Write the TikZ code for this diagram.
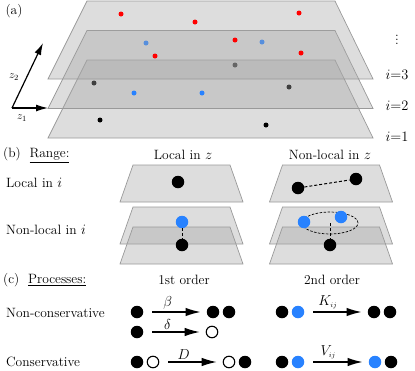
\documentclass[tikz,border=0pt]{standalone}
\usetikzlibrary{arrows.meta, shapes.geometric}
\definecolor{dotblue}{RGB}{40,130,255}
\newcommand{\txt}{\fontsize{13.5}{16}\selectfont}
\tikzset{
	plane/.style={draw=black!40, fill=black!35, fill opacity=0.38, line width=0.7pt},
	pt/.style={circle, fill, inner sep=0pt, minimum size=5pt},
	ball/.style={circle, fill, inner sep=0pt, minimum size=12.5pt},
	hole/.style={circle, draw, line width=1.1pt, fill=white, inner sep=0pt, minimum size=11.5pt},
	proc/.style={-{Latex[length=15pt,width=8.5pt]}, line width=1.3pt},
	axis/.style={-{Latex[length=12pt,width=7pt]}, line width=1.2pt},
	link/.style={line width=1pt, dash pattern=on 3pt off 2pt},
	lbl/.style={font=\txt, inner sep=0pt},
}
\begin{document}
\begin{tikzpicture}[x=1pt, y=-1pt]
	\useasboundingbox (0,0) rectangle (415,370);
	% (a)
	\node[lbl] (pa) at (14,11) {(a)};
	\draw[plane] (87,60) -- (335,60) -- (373,138) -- (48,138) -- cycle;
	\foreach \x/\y [count=\n] in {100/120, 266/125, 94/83, 289/87, 235/65}
		\node[pt] (k\n) at (\x,\y) {};
	\draw[plane] (87,30.5) -- (335,30.5) -- (373,108.5) -- (48,108.5) -- cycle;
	\foreach \x/\y [count=\n] in {134/93, 202/93, 146/43, 262/42}
		\node[pt, dotblue] (b\n) at (\x,\y) {};
	\draw[plane] (87,1) -- (335,1) -- (373,79) -- (48,79) -- cycle;
	\foreach \x/\y [count=\n] in {121/14, 195/22, 299/13, 235/40, 301/53, 155/56}
		\node[pt, red] (r\n) at (\x,\y) {};
	\coordinate (o) at (12,108);
	\coordinate (z1) at (48,108);
	\coordinate (z2) at (43,43);
	\draw[axis] (o) -- (z1);
	\draw[axis] (o) -- (z2);
	\node[font=\fontsize{11}{13}\selectfont] (lz1) at (22,118) {$z_1$};
	\node[font=\fontsize{11}{13}\selectfont] (lz2) at (14,77) {$z_2$};
	\foreach \y/\i in {75/3, 106/2, 137/1}
		\node[lbl] (i\i) at (397,\y) {$i{=}\i$};
	\node[lbl] (dots) at (397,37) {$\vdots$};
	% (b)
	\node[lbl, anchor=west] (pb) at (3,155) {(b)\ \ \underline{Range:}};
	\node[lbl] (lz) at (183,155) {Local in $z$};
	\node[lbl] (nz) at (330,155) {Non-local in $z$};
	\node[lbl, anchor=west] (li) at (6,183) {Local in $i$};
	\node[lbl, anchor=west] (ni) at (6,230) {Non-local in $i$};
	\foreach \cx/\ty in {181.5/165, 331/165, 181.5/207, 331/207, 181.5/227, 331/227}
		\draw[plane] (\cx-48.5,\ty) -- (\cx+48.5,\ty) -- (\cx+61.5,\ty+37) -- (\cx-61.5,\ty+37) -- cycle;
	\node[ball] (ll) at (178,182) {};
	\node[ball] (nl1) at (298,188) {};
	\node[ball] (nl2) at (356,179) {};
	\draw[link] (nl1) -- (nl2);
	\node[ball, dotblue] (ln1) at (182,222) {};
	\node[ball] (ln2) at (182,245) {};
	\draw[link] (ln1) -- (ln2);
	\node[ellipse, draw, line width=0.7pt, dash pattern=on 2.5pt off 1.5pt,
		minimum width=56pt, minimum height=22pt] (ring) at (330,223) {};
	\node[ball, dotblue] (nn1) at (304,222) {};
	\node[ball, dotblue] (nn2) at (341,217) {};
	\node[ball] (nn3) at (330,245) {};
	\draw[link] (ring.center) -- (nn3);
	% (c)
	\node[lbl, anchor=west] (pc) at (3,280) {(c)\ \ \underline{Processes:}};
	\node[lbl] (o1) at (184,280) {1st order};
	\node[lbl] (o2) at (332,280) {2nd order};
	\node[lbl, anchor=west] (nc) at (6,313) {Non-conservative};
	\node[lbl, anchor=west] (cs) at (6,362) {Conservative};
	\node[ball] (a1) at (137,312) {};
	\node[ball] (a2) at (213,312) {};
	\node[ball] (a3) at (229,312) {};
	\draw[proc] ([xshift=9pt]a1.east) -- ([xshift=-6pt]a2.west)
		node[pos=0.32, above=2pt, lbl] (beta) {$\beta$};
	\node[ball] (d1) at (137,332) {};
	\node[hole] (d2) at (212,332) {};
	\draw[proc] ([xshift=9pt]d1.east) -- ([xshift=-6pt]d2.west)
		node[pos=0.32, above=2pt, lbl] (delta) {$\delta$};
	\node[ball] (m1) at (137,362) {};
	\node[hole] (m2) at (153,362) {};
	\node[hole] (m3) at (229,362) {};
	\node[ball] (m4) at (245,362) {};
	\draw[proc] ([xshift=9pt]m2.east) -- ([xshift=-6pt]m3.west)
		node[pos=0.32, above=2pt, lbl] (dd) {$D$};
	\node[ball] (c1) at (282,312) {};
	\node[ball, dotblue] (c2) at (298,312) {};
	\node[ball] (c3) at (374,312) {};
	\node[ball] (c4) at (390,312) {};
	\draw[proc] ([xshift=9pt]c2.east) -- ([xshift=-6pt]c3.west)
		node[pos=0.3, above=2pt, lbl] (kk) {$K_{\scriptscriptstyle ij}$};
	\node[ball] (v1) at (282,362) {};
	\node[ball, dotblue] (v2) at (298,362) {};
	\node[ball, dotblue] (v3) at (375,362) {};
	\node[ball] (v4) at (391,362) {};
	\draw[proc] ([xshift=9pt]v2.east) -- ([xshift=-6pt]v3.west)
		node[pos=0.3, above=2pt, lbl] (vv) {$V_{\scriptscriptstyle ij}$};
\end{tikzpicture}
\end{document}
